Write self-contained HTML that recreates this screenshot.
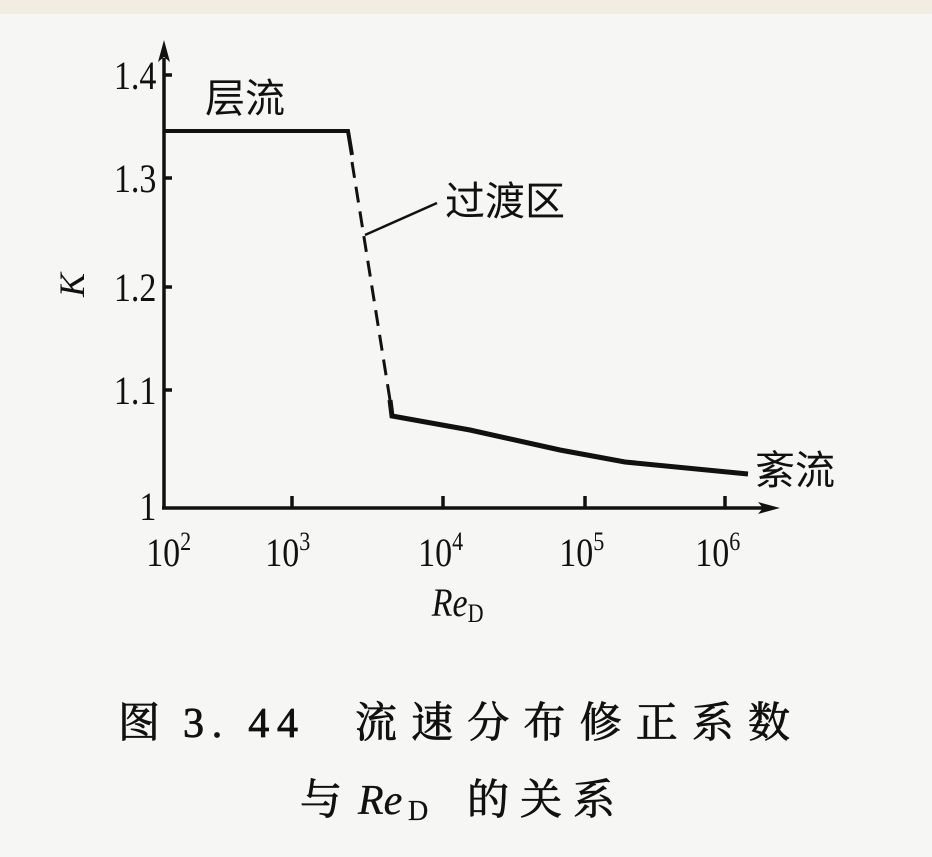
<!DOCTYPE html>
<html><head><meta charset="utf-8"><style>
html,body{margin:0;padding:0;background:#f6f6f4;}
svg{display:block}
text{fill:#111}
</style></head><body>
<svg width="932" height="857" viewBox="0 0 932 857" xmlns="http://www.w3.org/2000/svg">
<rect width="932" height="857" fill="#f6f6f4"/>
<rect width="932" height="14" fill="#f1ede0"/>
<g stroke="#111" fill="none" stroke-width="3.5">
<line x1="164" y1="58" x2="164" y2="508"/>
<line x1="162" y1="508" x2="768" y2="508"/>
<line x1="164" y1="75" x2="172" y2="75"/>
<line x1="164" y1="178" x2="172" y2="178"/>
<line x1="164" y1="287" x2="172" y2="287"/>
<line x1="164" y1="390" x2="172" y2="390"/>
<line x1="292" y1="508" x2="292" y2="496"/>
<line x1="443" y1="508" x2="443" y2="496"/>
<line x1="585" y1="508" x2="585" y2="496"/>
<line x1="725" y1="508" x2="725" y2="496"/>
<polyline points="164,131 348,131 352,155" stroke-width="4"/>
<polyline points="352,162 390,400" stroke-width="3" stroke-dasharray="16,9"/>
<polyline points="390,400 392,416 470,430 560,450 625,462 748,474" stroke-width="5"/>
<line x1="365" y1="235" x2="437" y2="203" stroke-width="2.5"/>
</g>
<polygon points="164,40 158,62 164,57 170,62" fill="#111"/>
<polygon points="780,508 758,502 763,508 758,514" fill="#111"/>
<g font-family="Liberation Serif, serif" font-size="40">
<g transform="scale(0.85,1)">
<text x="184" y="89" text-anchor="end">1.4</text>
<text x="184" y="192" text-anchor="end">1.3</text>
<text x="184" y="301" text-anchor="end">1.2</text>
<text x="184" y="404" text-anchor="end">1.1</text>
<text x="184" y="520" text-anchor="end">1</text>
<text x="172" y="566">10<tspan font-size="26" dy="-16">2</tspan></text>
<text x="312" y="566">10<tspan font-size="26" dy="-16">3</tspan></text>
<text x="492" y="566">10<tspan font-size="26" dy="-16">4</tspan></text>
<text x="658" y="566">10<tspan font-size="26" dy="-16">5</tspan></text>
<text x="818" y="566">10<tspan font-size="26" dy="-16">6</tspan></text>
<text x="508" y="616" font-style="italic">Re<tspan font-style="normal" font-size="26" dy="6">D</tspan></text>
</g>
<text x="0" y="0" font-style="italic" font-size="36" transform="translate(84,285) rotate(-90)" text-anchor="middle">K</text>
</g>
<g font-family="Liberation Sans, 'Noto Sans CJK SC', sans-serif" font-size="40">
<text x="205" y="112">层流</text>
<text x="445" y="215">过渡区</text>
<text x="755" y="484">紊流</text>
</g>
<g font-family="'Liberation Serif', 'Noto Serif CJK SC', serif" font-size="42" stroke="#111" stroke-width="0.8">
<text x="118" y="737">图</text>
<text x="183" y="737" textLength="115" lengthAdjust="spacing">3. 44</text>
<text x="355" y="737" textLength="435" lengthAdjust="spacing">流速分布修正系数</text>
<text x="300" y="814">与</text>
<text x="358" y="814" font-style="italic" stroke-width="0.3">Re</text>
<text x="408" y="820" font-size="28" stroke-width="0.3">D</text>
<text x="467" y="814" textLength="148" lengthAdjust="spacing">的关系</text>
</g>
</svg>
</body></html>
